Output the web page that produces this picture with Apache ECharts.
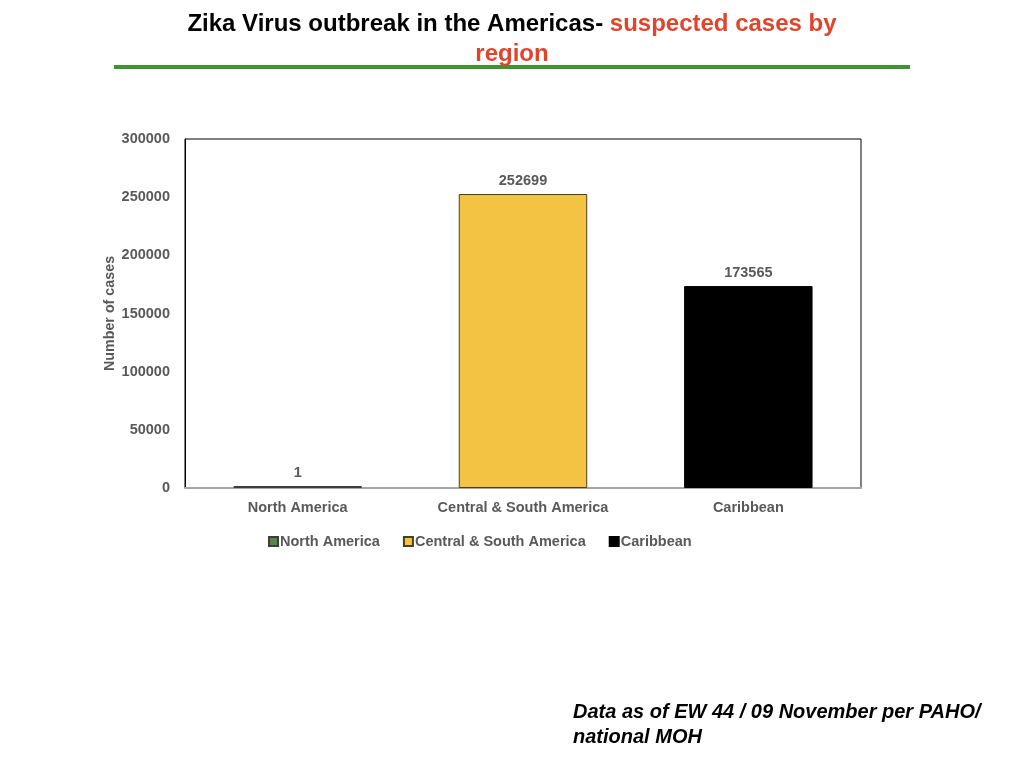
<!DOCTYPE html>
<html><head><meta charset="utf-8">
<script src="https://cdn.jsdelivr.net/npm/echarts@6/dist/echarts.min.js"></script>
<style>html,body{margin:0;padding:0;background:#fff}#c{width:1024px;height:768px}</style>
</head><body><div id="c"></div>
<script>
var categories = ['North America', 'Central & South America', 'Caribbean'];
var values = [1, 252699, 173565];
var yTicks = [0, 50000, 100000, 150000, 200000, 250000, 300000];
var barColors = ['#5b8249', '#f3c444', '#000000'];
var barBorders = ['#3d3d3d', '#4a3f1e', '#000000'];

var FS = 14.5;
var chart = echarts.init(document.getElementById('c'));
var series = categories.map(function (name, i) {
  var d = categories.map(function (_, j) { return j === i ? values[i] : '-'; });
  return {
    name: name, type: 'bar', stack: 'all', data: d, barWidth: '57%', barMinHeight: 2,
    itemStyle: { color: barColors[i], borderColor: barBorders[i], borderWidth: 1 },
    label: { show: true, position: 'top', distance: 6, color: '#595959', fontWeight: 'bold', fontSize: FS, fontFamily: 'Liberation Sans' }
  };
});
chart.setOption({
  animation: false,
  title: {
    text: '{b|Zika Virus outbreak in the Americas- }{r|suspected cases by}\n{r|region}',
    left: 'center', top: 4,
    textStyle: { rich: {
      b: { fontFamily: 'Liberation Sans', fontWeight: 'bold', fontSize: 24, color: '#000', lineHeight: 30 },
      r: { fontFamily: 'Liberation Sans', fontWeight: 'bold', fontSize: 24, color: '#e0452c', lineHeight: 30 }
    } }
  },
  grid: { left: 185, right: 163, top: 139, bottom: 280, show: true, borderColor: '#000', borderWidth: 1, containLabel: false },
  legend: {
    data: categories, top: 529, left: 263, itemWidth: 9, itemHeight: 9, itemGap: 23,
    textStyle: { color: '#595959', fontWeight: 'bold', fontSize: FS, fontFamily: 'Liberation Sans', padding: [0, 0, 0, -3] },
    icon: 'rect'
  },
  xAxis: {
    type: 'category', data: categories,
    axisLine: { lineStyle: { color: '#a6a6a6', width: 2 } }, axisTick: { show: false },
    axisLabel: { color: '#595959', fontWeight: 'bold', fontSize: FS, fontFamily: 'Liberation Sans', margin: 12 }
  },
  yAxis: {
    type: 'value', min: yTicks[0], max: yTicks[yTicks.length - 1], interval: 50000,
    name: 'Number of cases', nameLocation: 'middle', nameGap: 68, nameRotate: 90, nameMoveOverlap: false,
    nameTextStyle: { color: '#595959', fontWeight: 'bold', fontSize: 14.3, fontFamily: 'Liberation Sans' },
    splitLine: { show: false }, axisLine: { show: true, lineStyle: { color: '#000' } }, axisTick: { show: false },
    axisLabel: { color: '#595959', fontWeight: 'bold', fontSize: FS, fontFamily: 'Liberation Sans', margin: 15,
      formatter: function (v) { return String(v); } }
  },
  series: series,
  graphic: [
    { type: 'rect', shape: { x: 114, y: 65, width: 796, height: 4 }, style: { fill: '#3f9331' } },
    { type: 'text', left: 573, top: 700, style: { text: 'Data as of EW 44 / 09 November per PAHO/\nnational MOH', fontFamily: 'Liberation Sans', fontWeight: 'bold', fontStyle: 'italic', fontSize: 20, lineHeight: 25, fill: '#000' } }
  ]
});
</script></body></html>
